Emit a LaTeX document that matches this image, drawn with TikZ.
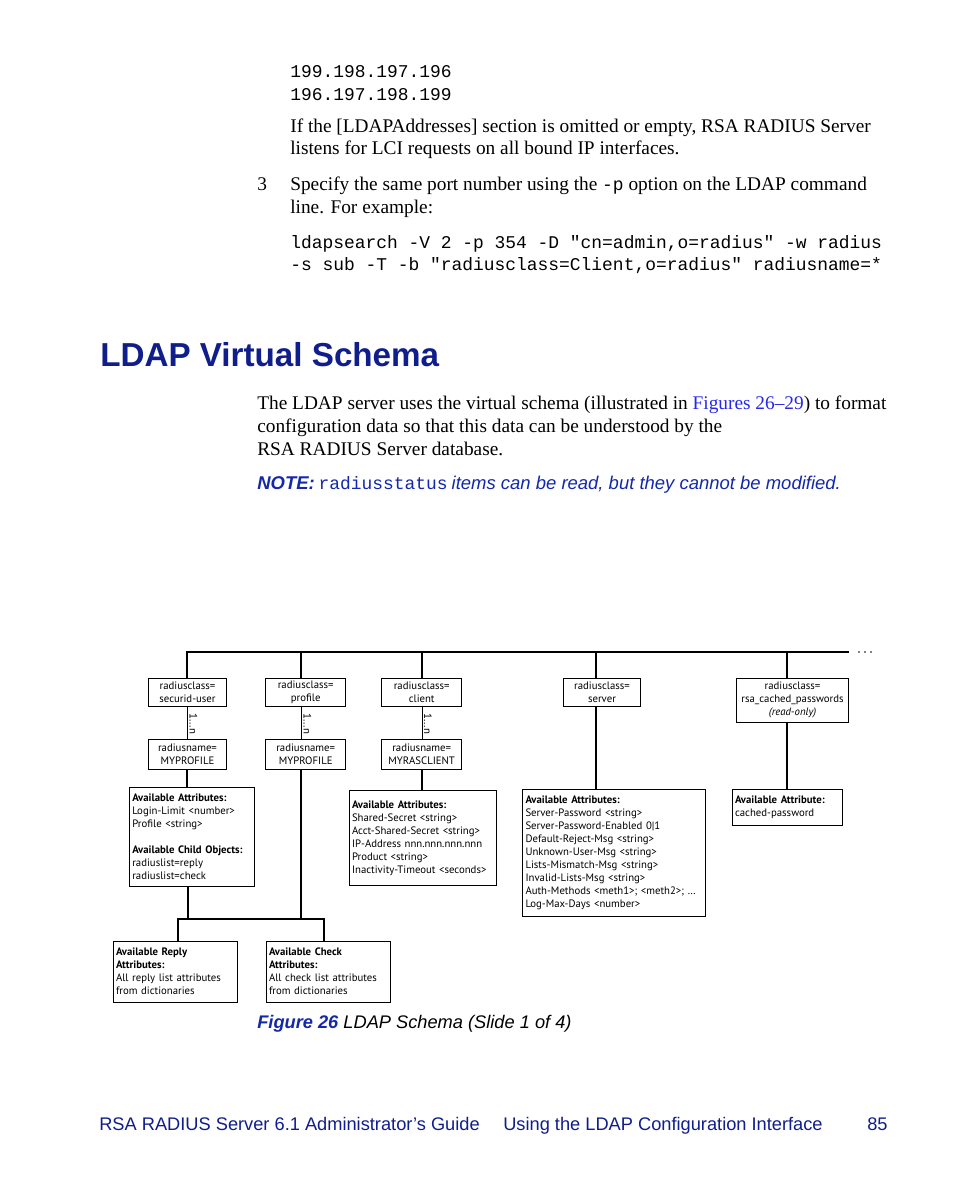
\documentclass[tikz,border=0pt]{standalone}
\usepackage{fontspec}
\setmainfont{Liberation Serif}
\setmonofont{Liberation Mono}
\newfontfamily\hsans{Liberation Sans}
\newfontfamily\dsans{PT Sans}
\definecolor{navy}{RGB}{16,30,140}
\definecolor{notecol}{RGB}{20,40,170}
\definecolor{linkblue}{RGB}{40,40,235}
\newcommand\bxw[1]{#1*0.6415pt}
\newcommand\dfont{\dsans\fontsize{6.9}{8.34}\selectfont}
\newcommand\bodyfont{\fontsize{12.4}{14}\selectfont}
\newcommand\codefont{\ttfamily\fontsize{11.5}{14}\selectfont}
\tikzset{
  cls/.style={draw, line width=0.6pt, font=\dfont, align=center, inner sep=0pt},
  attr/.style={draw, line width=0.6pt, font=\dfont, align=left, inner xsep=\bxw{3}, inner ysep=0pt},
  conn/.style={line width=1.9pt},
  thin/.style={line width=0.6pt},
  card/.style={font=\dfont, rotate=-90, inner sep=0pt},
  txt/.style={anchor=base west, inner sep=0pt},
}
\begin{document}
\begin{tikzpicture}[x=0.6415pt, y=-0.6415pt]
\path[use as bounding box, fill=white] (0,0) rectangle (954,1185);

% ---- text above ----
\node[txt, font=\codefont] (ip1) at (290,78) {199.198.197.196};
\node[txt, font=\codefont] (ip2) at (290,100) {196.197.198.199};
\node[txt, font=\bodyfont] (p1) at (290,132) {If the [LDAPAddresses] section is omitted or empty, RSA RADIUS Server};
\node[txt, font=\bodyfont] (p2) at (290,155) {listens for LCI requests on all bound IP interfaces.};
\node[txt, font=\bodyfont] (n3) at (257,190) {3};
\node[txt, font=\bodyfont] (p3) at (290,190) {Specify the same port number using the {\codefont -p} option on the LDAP command};
\node[txt, font=\bodyfont] (p4) at (290,213) {line. For example:};
\node[txt, font=\codefont] (cmd1) at (290,248) {ldapsearch -V 2 -p 354 -D "cn=admin,o=radius" -w radius};
\node[txt, font=\codefont] (cmd2) at (290,270) {-s sub -T -b "radiusclass=Client,o=radius" radiusname=*};

\node[txt, font=\hsans\bfseries\fontsize{21.3}{24}\selectfont, text=navy] (head) at (100,366) {LDAP Virtual Schema};

\node[txt, font=\bodyfont] (q1) at (257,409) {The LDAP server uses the virtual schema (illustrated in \textcolor{linkblue}{Figures 26--29}) to format};
\node[txt, font=\bodyfont] (q2) at (257,432) {configuration data so that this data can be understood by the};
\node[txt, font=\bodyfont] (q3) at (257,455) {RSA RADIUS Server database.};
\node[txt, text=notecol] (note) at (257,489) {{\hsans\bfseries\itshape\fontsize{11.85}{14}\selectfont NOTE:} {\codefont radiusstatus} {\hsans\itshape\fontsize{11.85}{14}\selectfont items can be read, but they cannot be modified.}};

% ---- diagram ----
\coordinate (j1) at (187,652);
\coordinate (j2) at (301,652);
\coordinate (j3) at (422,652);
\coordinate (j4) at (596,652);
\coordinate (j5) at (787,652);
\coordinate (jend) at (849,652);
\coordinate (b1) at (188,919);
\coordinate (b2) at (301,919);
\coordinate (bl) at (178,919);
\coordinate (br) at (324,919);

\node[cls, minimum width=\bxw{78}, minimum height=\bxw{28}] (c1) at (187.5,692.5) {radiusclass=\\securid-user};
\node[cls, minimum width=\bxw{80}, minimum height=\bxw{28}] (c2) at (305.7,692.5) {radiusclass=\\profile};
\node[cls, minimum width=\bxw{80}, minimum height=\bxw{28}] (c3) at (421.7,692.5) {radiusclass=\\client};
\node[cls, minimum width=\bxw{77}, minimum height=\bxw{28}] (c4) at (602,692.5) {radiusclass=\\server};
\node[cls, minimum width=\bxw{112}, minimum height=\bxw{44}] (c5) at (792.5,700) {radiusclass=\\rsa\_cached\_passwords\\\textit{(read-only)}};

\node[cls, minimum width=\bxw{78}, minimum height=\bxw{30}] (n1) at (187.5,754) {radiusname=\\MYPROFILE};
\node[cls, minimum width=\bxw{80}, minimum height=\bxw{30}] (n2) at (305.7,754) {radiusname=\\MYPROFILE};
\node[cls, minimum width=\bxw{80}, minimum height=\bxw{30}] (nn3) at (421.7,754) {radiusname=\\MYRASCLIENT};

\node[card] (m1) at (193.5,724) {1...n};
\node[card] (m2) at (307.5,724) {1...n};
\node[card] (m3) at (428,724) {1...n};

\node[attr, text width=\bxw{119}, minimum height=\bxw{99}] (a1) at (191.8,836.7) {\textbf{Available Attributes:}\\Login-Limit <number>\\Profile <string>\\[8.34pt]\textbf{Available Child Objects:}\\radiuslist=reply\\radiuslist=check};
\node[attr, text width=\bxw{141}, minimum height=\bxw{95}] (a3) at (422.5,838.3) {\textbf{Available Attributes:}\\Shared-Secret <string>\\Acct-Shared-Secret <string>\\IP-Address nnn.nnn.nnn.nnn\\Product <string>\\Inactivity-Timeout <seconds>};
\node[attr, text width=\bxw{177}, minimum height=\bxw{127}] (a4) at (614,852.5) {\textbf{Available Attributes:}\\Server-Password <string>\\Server-Password-Enabled 0|1\\Default-Reject-Msg <string>\\Unknown-User-Msg <string>\\Lists-Mismatch-Msg <string>\\Invalid-Lists-Msg <string>\\Auth-Methods <meth1>; <meth2>; \dots\\Log-Max-Days <number>};
\node[attr, text width=\bxw{104}, minimum height=\bxw{36}] (a5) at (787,807) {\textbf{Available Attribute:}\\cached-password};

\node[attr, text width=\bxw{118}, minimum height=\bxw{61}] (r) at (175,971.5) {\textbf{Available Reply}\\\textbf{Attributes:}\\All reply list attributes\\from dictionaries};
\node[attr, text width=\bxw{118}, minimum height=\bxw{61}] (k) at (328,971.5) {\textbf{Available Check}\\\textbf{Attributes:}\\All check list attributes\\from dictionaries};

% connectors
\draw[conn] (c1.north -| j1) -- (j1) -- (jend);
\draw[conn] (j2) -- (j2 |- c2.north);
\draw[conn] (j3) -- (j3 |- c3.north);
\draw[conn] (j4) -- (j4 |- c4.north);
\draw[conn] (j5) -- (j5 |- c5.north);
\draw[thin] (c1.south -| j1) -- (n1.north -| j1);
\draw[thin] (c2.south -| j2) -- (n2.north -| j2);
\draw[thin] (c3.south -| j3) -- (nn3.north -| j3);
\draw[conn] (n1.south -| j1) -- (a1.north -| j1);
\draw[conn] (nn3.south -| j3) -- (a3.north -| j3);
\draw[conn] (c4.south -| j4) -- (a4.north -| j4);
\draw[conn] (c5.south -| j5) -- (a5.north -| j5);
\draw[conn] (a1.south -| b1) -- (b1);
\draw[conn] (n2.south -| b2) -- (b2);
\draw[conn] (r.north -| bl) -- (bl) -- (br) -- (k.north -| br);

\foreach \dx in {859,865,871} \fill (\dx,652) circle[radius=0.9];

% caption
\node[txt, font=\hsans\fontsize{11.7}{14}\selectfont] (cap) at (257,1028) {\textcolor{notecol}{\bfseries\itshape Figure 26} \itshape LDAP Schema (Slide 1 of 4)};

% footer
\node[txt, font=\hsans\fontsize{11.7}{14}\selectfont, text=navy] (f1) at (99,1130) {RSA RADIUS Server 6.1 Administrator’s Guide};
\node[txt, font=\hsans\fontsize{11.7}{14}\selectfont, text=navy] (f2) at (503,1130) {Using the LDAP Configuration Interface};
\node[txt, font=\hsans\fontsize{11.7}{14}\selectfont, text=navy] (f3) at (867,1130) {85};
\end{tikzpicture}
\end{document}
